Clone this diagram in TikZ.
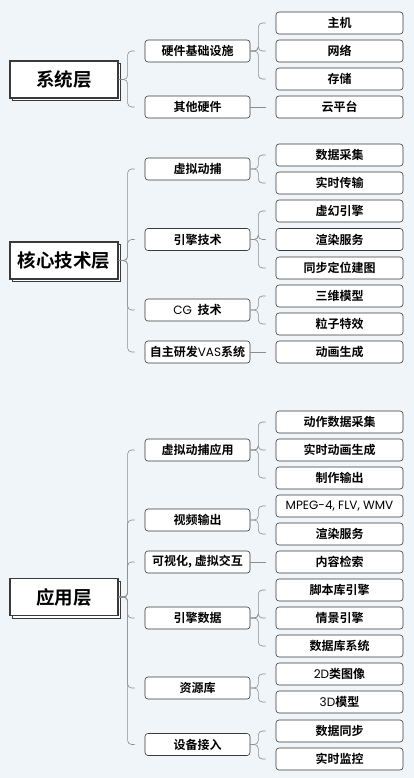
\documentclass[tikz,border=0pt]{standalone}
\usepackage{fontspec}
\usetikzlibrary{shadows}
\setmainfont{Noto Sans CJK SC}[BoldFont={* Bold}]
\newfontfamily\latfam{Poppins}
\newcommand{\lat}{\latfam\mdseries}
\definecolor{bgc}{HTML}{F0F5F9}
\definecolor{linec}{HTML}{8C8C8C}
\definecolor{boxc}{HTML}{3A3A3A}
\begin{document}
\begin{tikzpicture}[x=1pt,y=-1pt,
  mainbox/.style={draw=boxc,line width=1.2pt,fill=white,minimum width=108pt,minimum height=37pt,
    inner sep=0pt,font=\fontsize{18.5}{20}\selectfont\bfseries,
    copy shadow={shadow xshift=2.8pt,shadow yshift=-2.8pt,draw=boxc,line width=0.9pt,fill=white}},
  midbox/.style={draw=boxc,line width=0.6pt,fill=white,rounded corners=3pt,minimum width=105pt,minimum height=22pt,
    inner sep=0pt,font=\fontsize{12}{14}\selectfont\bfseries},
  leafbox/.style={draw=boxc,line width=0.6pt,fill=white,rounded corners=3pt,minimum width=127pt,minimum height=22pt,
    inner sep=0pt,font=\fontsize{12}{14}\selectfont\bfseries},
  conn/.style={draw=linec,line width=0.6pt,rounded corners=4pt}]
\useasboundingbox (0,0) rectangle (414,778);
\fill[bgc] (0,0) rectangle (414,778);
% ---------- layer 1
\node[mainbox] (m1) at (64,79.5) {系统层};
\node[midbox] (a1) at (197.5,51) {硬件基础设施};
\node[midbox] (a2) at (197.5,107) {其他硬件};
\node[leafbox] (a1x) at (339.5,23) {主机};
\node[leafbox] (a1y) at (339.5,51) {网络};
\node[leafbox] (a1z) at (339.5,79) {存储};
\node[leafbox] (a2x) at (339.5,107) {云平台};
\foreach \c in {a1,a2} \draw[conn] (m1.east) -- ++(9,0) |- ([xshift=-10pt]\c.west);
\foreach \c in {a1x,a1y,a1z} \draw[conn] (a1.east) -- ++(8,0) |- ([xshift=-10pt]\c.west);
\draw[conn] (a2.east) -- ([xshift=-10pt]a2x.west);
% ---------- layer 2
\node[mainbox] (m2) at (64,260.5) {核心技术层};
\node[midbox] (b1) at (197.5,169) {虚拟动捕};
\node[midbox] (b2) at (197.5,239.5) {引擎技术};
\node[midbox] (b3) at (197.5,310) {{\lat CG}\ \ 技术};
\node[midbox] (b4) at (197.5,352) {自主研发{\lat VAS}系统};
\node[leafbox] (b1x) at (339.5,155) {数据采集};
\node[leafbox] (b1y) at (339.5,183) {实时传输};
\node[leafbox] (b2x) at (339.5,211) {虚幻引擎};
\node[leafbox] (b2y) at (339.5,239.5) {渲染服务};
\node[leafbox] (b2z) at (339.5,268) {同步定位建图};
\node[leafbox] (b3x) at (339.5,296) {三维模型};
\node[leafbox] (b3y) at (339.5,324) {粒子特效};
\node[leafbox] (b4x) at (339.5,352) {动画生成};
\foreach \c in {b1,b2,b3,b4} \draw[conn] (m2.east) -- ++(9,0) |- ([xshift=-10pt]\c.west);
\foreach \c in {b1x,b1y} \draw[conn] (b1.east) -- ++(8,0) |- ([xshift=-10pt]\c.west);
\foreach \c in {b2x,b2y,b2z} \draw[conn] (b2.east) -- ++(8,0) |- ([xshift=-10pt]\c.west);
\foreach \c in {b3x,b3y} \draw[conn] (b3.east) -- ++(8,0) |- ([xshift=-10pt]\c.west);
\draw[conn] (b4.east) -- ([xshift=-10pt]b4x.west);
% ---------- layer 3
\node[mainbox] (m3) at (64,597) {应用层};
\node[midbox] (c1) at (197.5,450) {虚拟动捕应用};
\node[midbox] (c2) at (197.5,520) {视频输出};
\node[midbox] (c3) at (197.5,562) {可视化, 虚拟交互};
\node[midbox] (c4) at (197.5,618) {引擎数据};
\node[midbox] (c5) at (197.5,688) {资源库};
\node[midbox] (c6) at (197.5,744.5) {设备接入};
\node[leafbox] (c1x) at (339.5,422) {动作数据采集};
\node[leafbox] (c1y) at (339.5,450) {实时动画生成};
\node[leafbox] (c1z) at (339.5,478) {制作输出};
\node[leafbox] (c2x) at (339.5,506) {\lat MPEG-4, FLV, WMV};
\node[leafbox] (c2y) at (339.5,534) {渲染服务};
\node[leafbox] (c3x) at (339.5,562) {内容检索};
\node[leafbox] (c4x) at (339.5,590) {脚本库引擎};
\node[leafbox] (c4y) at (339.5,618) {情景引擎};
\node[leafbox] (c4z) at (339.5,646) {数据库系统};
\node[leafbox] (c5x) at (339.5,674) {{\lat 2D}类图像};
\node[leafbox] (c5y) at (339.5,702) {{\lat 3D}模型};
\node[leafbox] (c6x) at (339.5,731) {数据同步};
\node[leafbox] (c6y) at (339.5,759) {实时监控};
\foreach \c in {c1,c2,c3,c4,c5,c6} \draw[conn] (m3.east) -- ++(9,0) |- ([xshift=-10pt]\c.west);
\foreach \c in {c1x,c1y,c1z} \draw[conn] (c1.east) -- ++(8,0) |- ([xshift=-10pt]\c.west);
\foreach \c in {c2x,c2y} \draw[conn] (c2.east) -- ++(8,0) |- ([xshift=-10pt]\c.west);
\draw[conn] (c3.east) -- ([xshift=-10pt]c3x.west);
\foreach \c in {c4x,c4y,c4z} \draw[conn] (c4.east) -- ++(8,0) |- ([xshift=-10pt]\c.west);
\foreach \c in {c5x,c5y} \draw[conn] (c5.east) -- ++(8,0) |- ([xshift=-10pt]\c.west);
\foreach \c in {c6x,c6y} \draw[conn] (c6.east) -- ++(8,0) |- ([xshift=-10pt]\c.west);
\end{tikzpicture}
\end{document}
